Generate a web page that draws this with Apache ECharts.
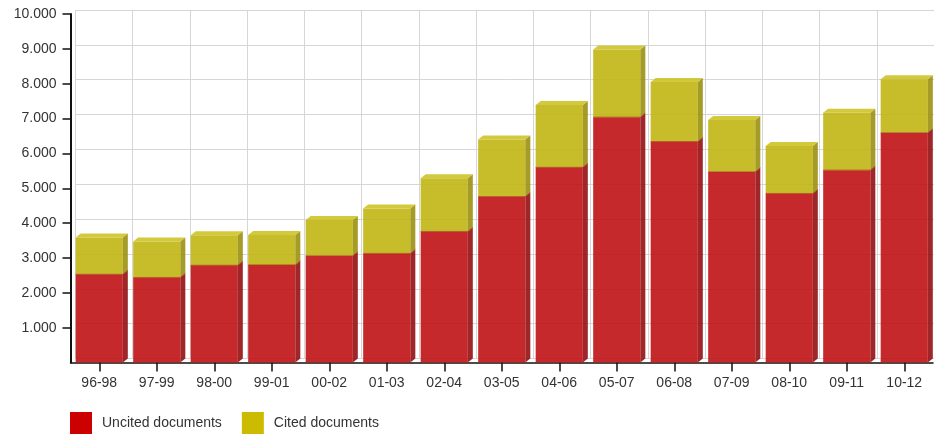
<!DOCTYPE html>
<html><head><meta charset="utf-8">
<script src="https://cdn.jsdelivr.net/npm/echarts@6/dist/echarts.min.js"></script>
<style>html,body{margin:0;padding:0;background:#fff}#c{width:934px;height:439px}</style>
</head><body><div id="c"></div>
<script>
const categories = ['96-98','97-99','98-00','99-01','00-02','01-03','02-04','03-05','04-06','05-07','06-08','07-09','08-10','09-11','10-12'];
const uncited = [2530, 2440, 2790, 2800, 3060, 3130, 3760, 4760, 5600, 7040, 6340, 5470, 4850, 5520, 6590];
const cited   = [1060, 1030, 860, 860, 1030, 1290, 1530, 1640, 1790, 1940, 1710, 1490, 1360, 1650, 1540];
const yTickValues = [1000, 2000, 3000, 4000, 5000, 6000, 7000, 8000, 9000, 10000];
const yTickLabels = ['1.000','2.000','3.000','4.000','5.000','6.000','7.000','8.000','9.000','10.000'];
const seriesNames = ['Uncited documents', 'Cited documents'];

const FONT = "'Liberation Sans', Arial, sans-serif";
const BAR_RATIO = 0.82, DX = 5, DY = -4;
const redFront = 'rgba(192,18,20,0.9)', yellowFront = 'rgba(193,181,18,0.9)';
const redSide = 'rgba(150,16,18,0.9)', yellowSide = 'rgba(155,145,16,0.9)', yellowTop = 'rgba(205,195,40,0.9)';

const chart = echarts.init(document.getElementById('c'), null, {renderer: 'canvas'});

function renderItem(params, api) {
  const i = api.value(0), u = api.value(1), c = api.value(2);
  const base = api.coord([i, 0]);
  const pU = api.coord([i, u]);
  const pT = api.coord([i, u + c]);
  const w = api.size([1, 0])[0] * BAR_RATIO;
  const xl = base[0] - w / 2, xr = base[0] + w / 2;
  const y0 = base[1], y1 = pU[1], y2 = pT[1];
  return {type: 'group', children: [
    {type: 'polygon', shape: {points: [[xr, y0], [xr + DX, y0 + DY], [xr + DX, y1 + DY], [xr, y1]]}, style: {fill: redSide}},
    {type: 'polygon', shape: {points: [[xr, y1], [xr + DX, y1 + DY], [xr + DX, y2 + DY], [xr, y2]]}, style: {fill: yellowSide}},
    {type: 'polygon', shape: {points: [[xl, y2], [xl + DX, y2 + DY], [xr + DX, y2 + DY], [xr, y2]]}, style: {fill: yellowTop}},
    {type: 'polyline', shape: {points: [[xl, y1], [xr, y1], [xr + DX, y1 + DY]]}, style: {stroke: 'rgba(170,60,20,0.7)', lineWidth: 1, fill: null}}
  ]};
}

chart.setOption({
  animation: false,
  backgroundColor: '#fff',
  textStyle: {fontFamily: FONT},
  grid: [
    {left: 70.5, right: 1, top: 14, bottom: 76.5},
    {left: 75.5, right: -4, top: 10, bottom: 80.5}
  ],
  legend: {
    left: 70, top: 412, padding: 0, itemWidth: 22, itemHeight: 22, itemGap: 20, icon: 'rect',
    textStyle: {fontSize: 14, color: '#333', fontFamily: FONT, padding: [3, 0, 0, 5]},
    data: [
      {name: seriesNames[0], itemStyle: {color: '#cc0000', opacity: 1}},
      {name: seriesNames[1], itemStyle: {color: '#ccbb00', opacity: 1}}
    ]
  },
  xAxis: [
    {type: 'category', gridIndex: 0, data: categories,
     axisLine: {show: true, lineStyle: {color: '#111', width: 1.5}},
     axisTick: {show: true, length: 9, alignWithLabel: true, lineStyle: {color: '#111', width: 1.5}},
     axisLabel: {fontSize: 14, color: '#333', margin: 14, fontFamily: FONT},
     splitLine: {show: false}},
    {type: 'category', gridIndex: 1, data: categories,
     axisLine: {show: false}, axisTick: {show: false}, axisLabel: {show: false},
     splitLine: {show: true, lineStyle: {color: '#d6d6d6', width: 1}}}
  ],
  yAxis: [
    {type: 'value', gridIndex: 0, min: 0, max: 10000, interval: 1000,
     axisLine: {show: true, lineStyle: {color: '#111', width: 2}},
     axisTick: {show: true, length: 8, customValues: yTickValues, lineStyle: {color: '#111', width: 1.5}},
     axisLabel: {fontSize: 14, color: '#333', margin: 14, fontFamily: FONT, customValues: yTickValues,
       formatter: function (v) { const k = yTickValues.indexOf(v); return k >= 0 ? yTickLabels[k] : ''; }},
     splitLine: {show: false}},
    {type: 'value', gridIndex: 1, min: 0, max: 10000, interval: 1000,
     axisLine: {show: false}, axisTick: {show: false}, axisLabel: {show: false},
     splitLine: {show: true, lineStyle: {color: '#d6d6d6', width: 1}}}
  ],
  series: [
    {name: seriesNames[0], type: 'bar', stack: 'total', xAxisIndex: 0, yAxisIndex: 0,
     barWidth: (BAR_RATIO * 100) + '%', data: uncited, itemStyle: {color: redFront}, z: 3},
    {name: seriesNames[1], type: 'bar', stack: 'total', xAxisIndex: 0, yAxisIndex: 0,
     barWidth: (BAR_RATIO * 100) + '%', data: cited, itemStyle: {color: yellowFront}, z: 3},
    {name: '3d', type: 'custom', xAxisIndex: 0, yAxisIndex: 0, silent: true, z: 4,
     renderItem: renderItem, encode: {x: 0, y: 1},
     data: categories.map(function (c, i) { return [i, uncited[i], cited[i]]; })}
  ]
});
</script></body></html>
